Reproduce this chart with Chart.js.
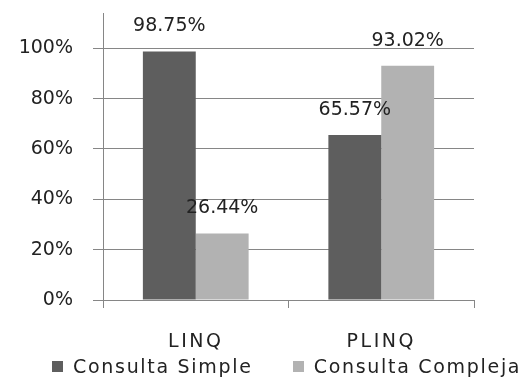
<!DOCTYPE html>
<html>
<head>
<meta charset="utf-8">
<script src="https://cdn.jsdelivr.net/npm/chart.js@4"></script>
<style>
  html, body { margin: 0; padding: 0; background: #fff; }
  #wrap { position: relative; width: 532px; height: 378px; overflow: hidden; }
  #leyenda {
    position: absolute; left: 52px; top: 355px;
    display: flex; gap: 40px;
    font: 19px 'DejaVu Sans', Verdana, sans-serif;
    letter-spacing: 1.7px; color: #222; line-height: 22px;
  }
  #leyenda span { display: flex; align-items: center; white-space: nowrap; }
  #leyenda i { display: inline-block; width: 11px; height: 11px; margin-right: 10px; }
</style>
</head>
<body>
<div id="wrap">
  <canvas id="grafico"></canvas>
  <div id="leyenda"></div>
</div>
<script>
// datos
const categorias = ['LINQ', 'PLINQ'];
const consultaSimple = [98.75, 65.57];
const consultaCompleja = [26.44, 93.02];
const marcasY = [0, 20, 40, 60, 80, 100];

const fuente = 'DejaVu Sans, Verdana, sans-serif';
const gris = '#868686';

// etiqueta de valor encima de cada barra; despues se espacian las letras del eje x (z: 1)
const etiquetas = {
  id: 'etiquetas',
  beforeDraw(chart) { chart.ctx.letterSpacing = '0px'; },
  afterDatasetsDraw(chart) {
    const ctx = chart.ctx;
    ctx.save();
    ctx.font = '19px ' + fuente;
    ctx.fillStyle = '#222';
    ctx.textAlign = 'center';
    ctx.textBaseline = 'middle';
    chart.data.datasets.forEach((ds, i) => {
      chart.getDatasetMeta(i).data.forEach((bar, j) => {
        ctx.fillText(ds.data[j].toFixed(2) + '%', bar.x, bar.y - 25);
      });
    });
    ctx.restore();
    ctx.letterSpacing = '2.5px';
  },
  afterDraw(chart) { chart.ctx.letterSpacing = '0px'; }
};

const grafico = new Chart(document.getElementById('grafico'), {
  type: 'bar',
  data: {
    labels: categorias,
    datasets: [
      { label: 'Consulta Simple', data: consultaSimple, backgroundColor: '#5e5e5e' },
      { label: 'Consulta Compleja', data: consultaCompleja, backgroundColor: '#b2b2b2' }
    ]
  },
  options: {
    responsive: true,
    maintainAspectRatio: false,
    animation: false,
    layout: { padding: { top: 13, right: 58, left: 0, bottom: 0 } },
    datasets: { bar: { barPercentage: 1, categoryPercentage: 0.57 } },
    plugins: {
      tooltip: { enabled: false },
      legend: { display: false }
    },
    scales: {
      x: {
        afterFit(scale) { scale.height = 78; },
        grid: { offset: true, drawOnChartArea: false, color: gris, tickLength: 8 },
        border: { color: gris },
        ticks: { color: '#222', font: { family: fuente, size: 19 }, padding: 23, z: 1 }
      },
      y: {
        min: 0,
        max: 114,
        afterBuildTicks(scale) {
          scale.ticks = marcasY.map(v => ({ value: v }));
        },
        afterFit(scale) {
          scale.width = 103;
          scale.paddingTop = 0;
          scale.paddingBottom = 0;
        },
        grid: { color: gris, tickLength: 10 },
        border: { color: gris },
        ticks: {
          color: '#222',
          font: { family: fuente, size: 19 },
          padding: 20,
          callback: v => v + '%'
        }
      }
    }
  },
  plugins: [etiquetas]
});

// leyenda en html
document.getElementById('leyenda').innerHTML = grafico.data.datasets
  .map(ds => `<span><i style="background:${ds.backgroundColor}"></i>${ds.label}</span>`)
  .join('');
</script>
</body>
</html>
